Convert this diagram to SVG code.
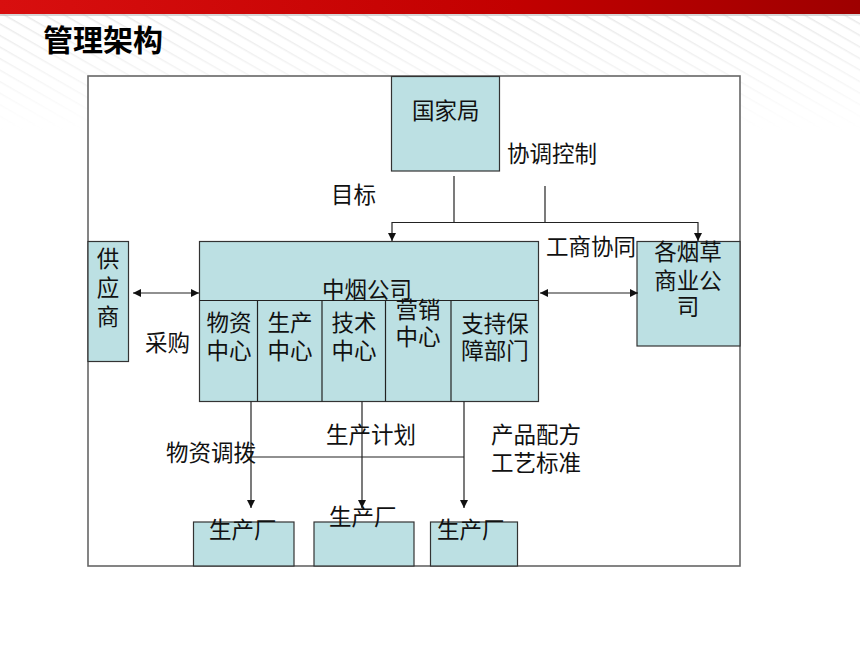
<svg xmlns="http://www.w3.org/2000/svg" width="860" height="645" viewBox="0 0 860 645">
<style>
.box{fill:#BCE0E3;stroke:#333;stroke-width:1.2}
.t{font-family:"Noto Sans CJK SC","Noto Sans",sans-serif;font-size:22.5px;fill:#111}
.c{text-anchor:middle}
.ln{stroke:#222;stroke-width:1.2;fill:none}
</style>
<defs>
<linearGradient id="red" x1="0" y1="0" x2="1" y2="0">
<stop offset="0" stop-color="#d80f0f"/>
<stop offset="0.6" stop-color="#c20000"/>
<stop offset="1" stop-color="#9e0000"/>
</linearGradient>
<linearGradient id="fade" x1="0" y1="0" x2="0" y2="1">
<stop offset="0" stop-color="#fff" stop-opacity="1"/>
<stop offset="1" stop-color="#fff" stop-opacity="0"/>
</linearGradient>
<pattern id="stripes" width="10" height="10" patternUnits="userSpaceOnUse" patternTransform="rotate(30)">
<line x1="0" y1="0" x2="10" y2="0" stroke="#e6e6e6" stroke-width="3"/>
</pattern>
<mask id="m">
<rect x="0" y="0" width="860" height="130" fill="url(#fade)"/>
</mask>
<marker id="ah" markerWidth="8" markerHeight="8" refX="8" refY="4" orient="auto-start-reverse" markerUnits="userSpaceOnUse">
<path d="M0,0 L8,4 L0,8 Z" fill="#111"/>
</marker>
</defs>
<rect width="860" height="645" fill="#fff"/>
<rect x="0" y="0" width="860" height="130" fill="url(#stripes)" mask="url(#m)"/>
<rect x="0" y="13" width="860" height="3" fill="#bbb" opacity="0.6"/>
<rect x="0" y="0" width="860" height="14" fill="url(#red)"/>
<text x="43" y="51" font-family="'Noto Sans CJK SC','Noto Sans',sans-serif" font-size="30" font-weight="bold" fill="#000">管理架构</text>

<rect id="frame" x="88" y="76" width="652" height="490" fill="#fff" stroke="#666" stroke-width="1.6"/>

<g id="guojiaju">
<rect class="box" x="391.5" y="76.5" width="108" height="94.5"/>
<text class="t" x="412" y="119">国家局</text>
</g>

<g id="zhongyan">
<rect class="box" x="199.5" y="241.5" width="339" height="160"/>
<line class="ln" x1="199.5" y1="300.5" x2="538.5" y2="300.5"/>
<line class="ln" x1="257.5" y1="300.5" x2="257.5" y2="401.5"/>
<line class="ln" x1="322" y1="300.5" x2="322" y2="401.5"/>
<line class="ln" x1="385.5" y1="300.5" x2="385.5" y2="401.5"/>
<line class="ln" x1="451" y1="300.5" x2="451" y2="401.5"/>
<text class="t" x="322" y="298">中烟公司</text>
</g>
<g id="wuzi"><text class="t c" y="331"><tspan x="229">物资</tspan><tspan x="229" y="359">中心</tspan></text></g>
<g id="shengchan"><text class="t c" y="331"><tspan x="290">生产</tspan><tspan x="290" y="359">中心</tspan></text></g>
<g id="jishu"><text class="t c" y="331"><tspan x="354">技术</tspan><tspan x="354" y="359">中心</tspan></text></g>
<g id="yingxiao"><text class="t c" y="318"><tspan x="418">营销</tspan><tspan x="418" y="345">中心</tspan></text></g>
<g id="zhichi"><text class="t c" y="332"><tspan x="495">支持保</tspan><tspan x="495" y="359">障部门</tspan></text></g>

<g id="gongyingshang">
<rect class="box" x="88" y="241.5" width="40.5" height="120"/>
<text class="t c" y="267"><tspan x="108">供</tspan><tspan x="108" y="296">应</tspan><tspan x="108" y="325">商</tspan></text>
</g>

<g id="geyancao">
<rect class="box" x="637" y="241.5" width="103" height="104.5"/>
<text class="t c" y="260"><tspan x="688">各烟草</tspan><tspan x="688" y="289">商业公</tspan><tspan x="688" y="315">司</tspan></text>
</g>

<g id="chang1">
<rect class="box" x="193.5" y="522" width="100.5" height="44"/>
<text class="t" x="209" y="538">生产厂</text>
</g>
<g id="chang2">
<rect class="box" x="314" y="522" width="100" height="44"/>
<text class="t" x="329" y="525">生产厂</text>
</g>
<g id="chang3">
<rect class="box" x="430.5" y="522" width="87" height="44"/>
<text class="t" x="437" y="538">生产厂</text>
</g>

<g id="connectors">
<line class="ln" x1="454" y1="176" x2="454" y2="222.5"/>
<line class="ln" x1="545" y1="186" x2="545" y2="222.5"/>
<polyline class="ln" points="392,241 392,222.5 698,222.5 698,241" marker-start="url(#ah)" marker-end="url(#ah)"/>
<line class="ln" x1="133" y1="293" x2="199" y2="293" marker-start="url(#ah)" marker-end="url(#ah)"/>
<line class="ln" x1="540" y1="293" x2="638" y2="293" marker-start="url(#ah)" marker-end="url(#ah)"/>
<line class="ln" x1="251" y1="401.5" x2="251" y2="508" marker-end="url(#ah)"/>
<line class="ln" x1="362" y1="401.5" x2="362" y2="508" marker-end="url(#ah)"/>
<line class="ln" x1="464" y1="401.5" x2="464" y2="508" marker-end="url(#ah)"/>
<line class="ln" x1="250" y1="457" x2="464" y2="457"/>
</g>

<g id="labels">
<text class="t" x="507" y="162">协调控制</text>
<text class="t" x="331" y="203">目标</text>
<text class="t" x="546" y="255">工商协同</text>
<text class="t" x="145" y="351">采购</text>
<text class="t" x="326" y="443">生产计划</text>
<text class="t" x="166" y="461">物资调拨</text>
<text class="t" y="443"><tspan x="491">产品配方</tspan><tspan x="491" y="471">工艺标准</tspan></text>
</g>
</svg>
